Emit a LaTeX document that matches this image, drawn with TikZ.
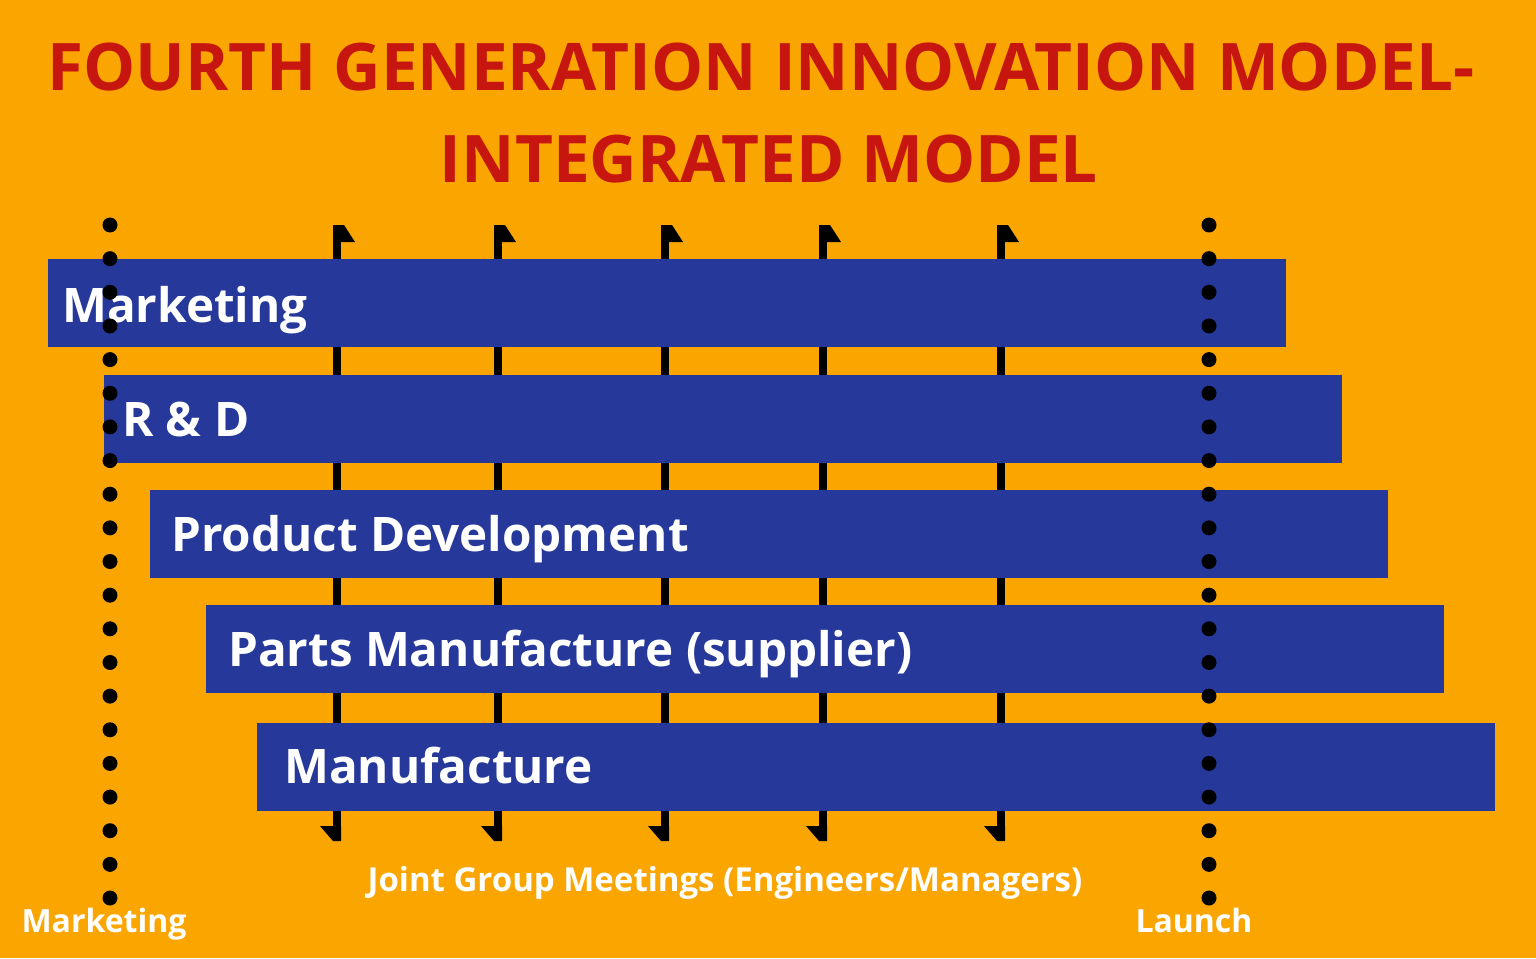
\documentclass[tikz,border=0pt]{standalone}
\usepackage{fontspec}
\setmainfont{Open Sans}
\definecolor{bgc}{HTML}{FBA600}
\definecolor{barc}{HTML}{26399B}
\definecolor{titc}{HTML}{C7160F}
\tikzset{
  bar/.style={fill=barc, draw=none, anchor=north west, minimum height=88pt, minimum width=1238pt, inner sep=0pt},
  bartext/.style={text=white, font=\fontsize{47.6}{50}\selectfont\bfseries, anchor=base west, inner sep=0pt},
  title/.style={text=titc, font=\fontsize{65.6}{80}\selectfont\bfseries, anchor=base, inner sep=0pt},
  small/.style={text=white, font=\fontsize{32}{36}\selectfont\bfseries, anchor=base, inner sep=0pt},
  vline/.style={line width=8pt, black},
  dotc/.style={fill=black}
}
\begin{document}
\begin{tikzpicture}[x=1pt,y=-1pt]
\useasboundingbox (0,0) rectangle (1536,958);
\fill[bgc] (0,0) rectangle (1536,958);
% title
\node[title] (title1) at (761,90) {FOURTH GENERATION INNOVATION MODEL-};
\node[title] (title2) at (769,182) {INTEGRATED MODEL};
% vertical meeting lines
\foreach \x [count=\k] in {337,498,665,823,1001} {
  \coordinate (top\k) at (\x,225);
  \coordinate (bot\k) at (\x,841);
  \draw[vline] (top\k) -- (bot\k);
  \fill ([xshift=-4pt]top\k) -- ++(11,0) -- ++(11,17) -- ++(-22,0) -- cycle;
  \fill ([xshift=4pt]bot\k) -- ++(-8,0) -- ++(-13,-15) -- ++(21,0) -- cycle;
}
% bars
\node[bar] (mkt) at (48,259) {};
\node[bar] (rd) at (104,375) {};
\node[bar] (pd) at (150,490) {};
\node[bar] (pm) at (206,605) {};
\node[bar] (mf) at (257,723) {};
% bar texts
\node[bartext] (mktt) at (62,322) {Marketing};
\node[bartext] (rdt) at (122,436) {R \& D};
\node[bartext] (pdt) at (171,551) {Product Development};
\node[bartext] (pmt) at (228,666) {Parts Manufacture (supplier)};
\node[bartext] (mft) at (284,783) {Manufacture};
% dotted lines
\foreach \i in {0,...,20} {
  \fill[dotc] (110,225+33.65*\i) circle (7.5);
  \fill[dotc] (1209,225+33.65*\i) circle (7.5);
}
% bottom labels
\node[small, font=\fontsize{33}{36}\selectfont\bfseries] (jgm) at (725,891) {Joint Group Meetings (Engineers/Managers)};
\node[small] (lmk) at (104,932) {Marketing};
\node[small] (lch) at (1194,932) {Launch};
\end{tikzpicture}
\end{document}
